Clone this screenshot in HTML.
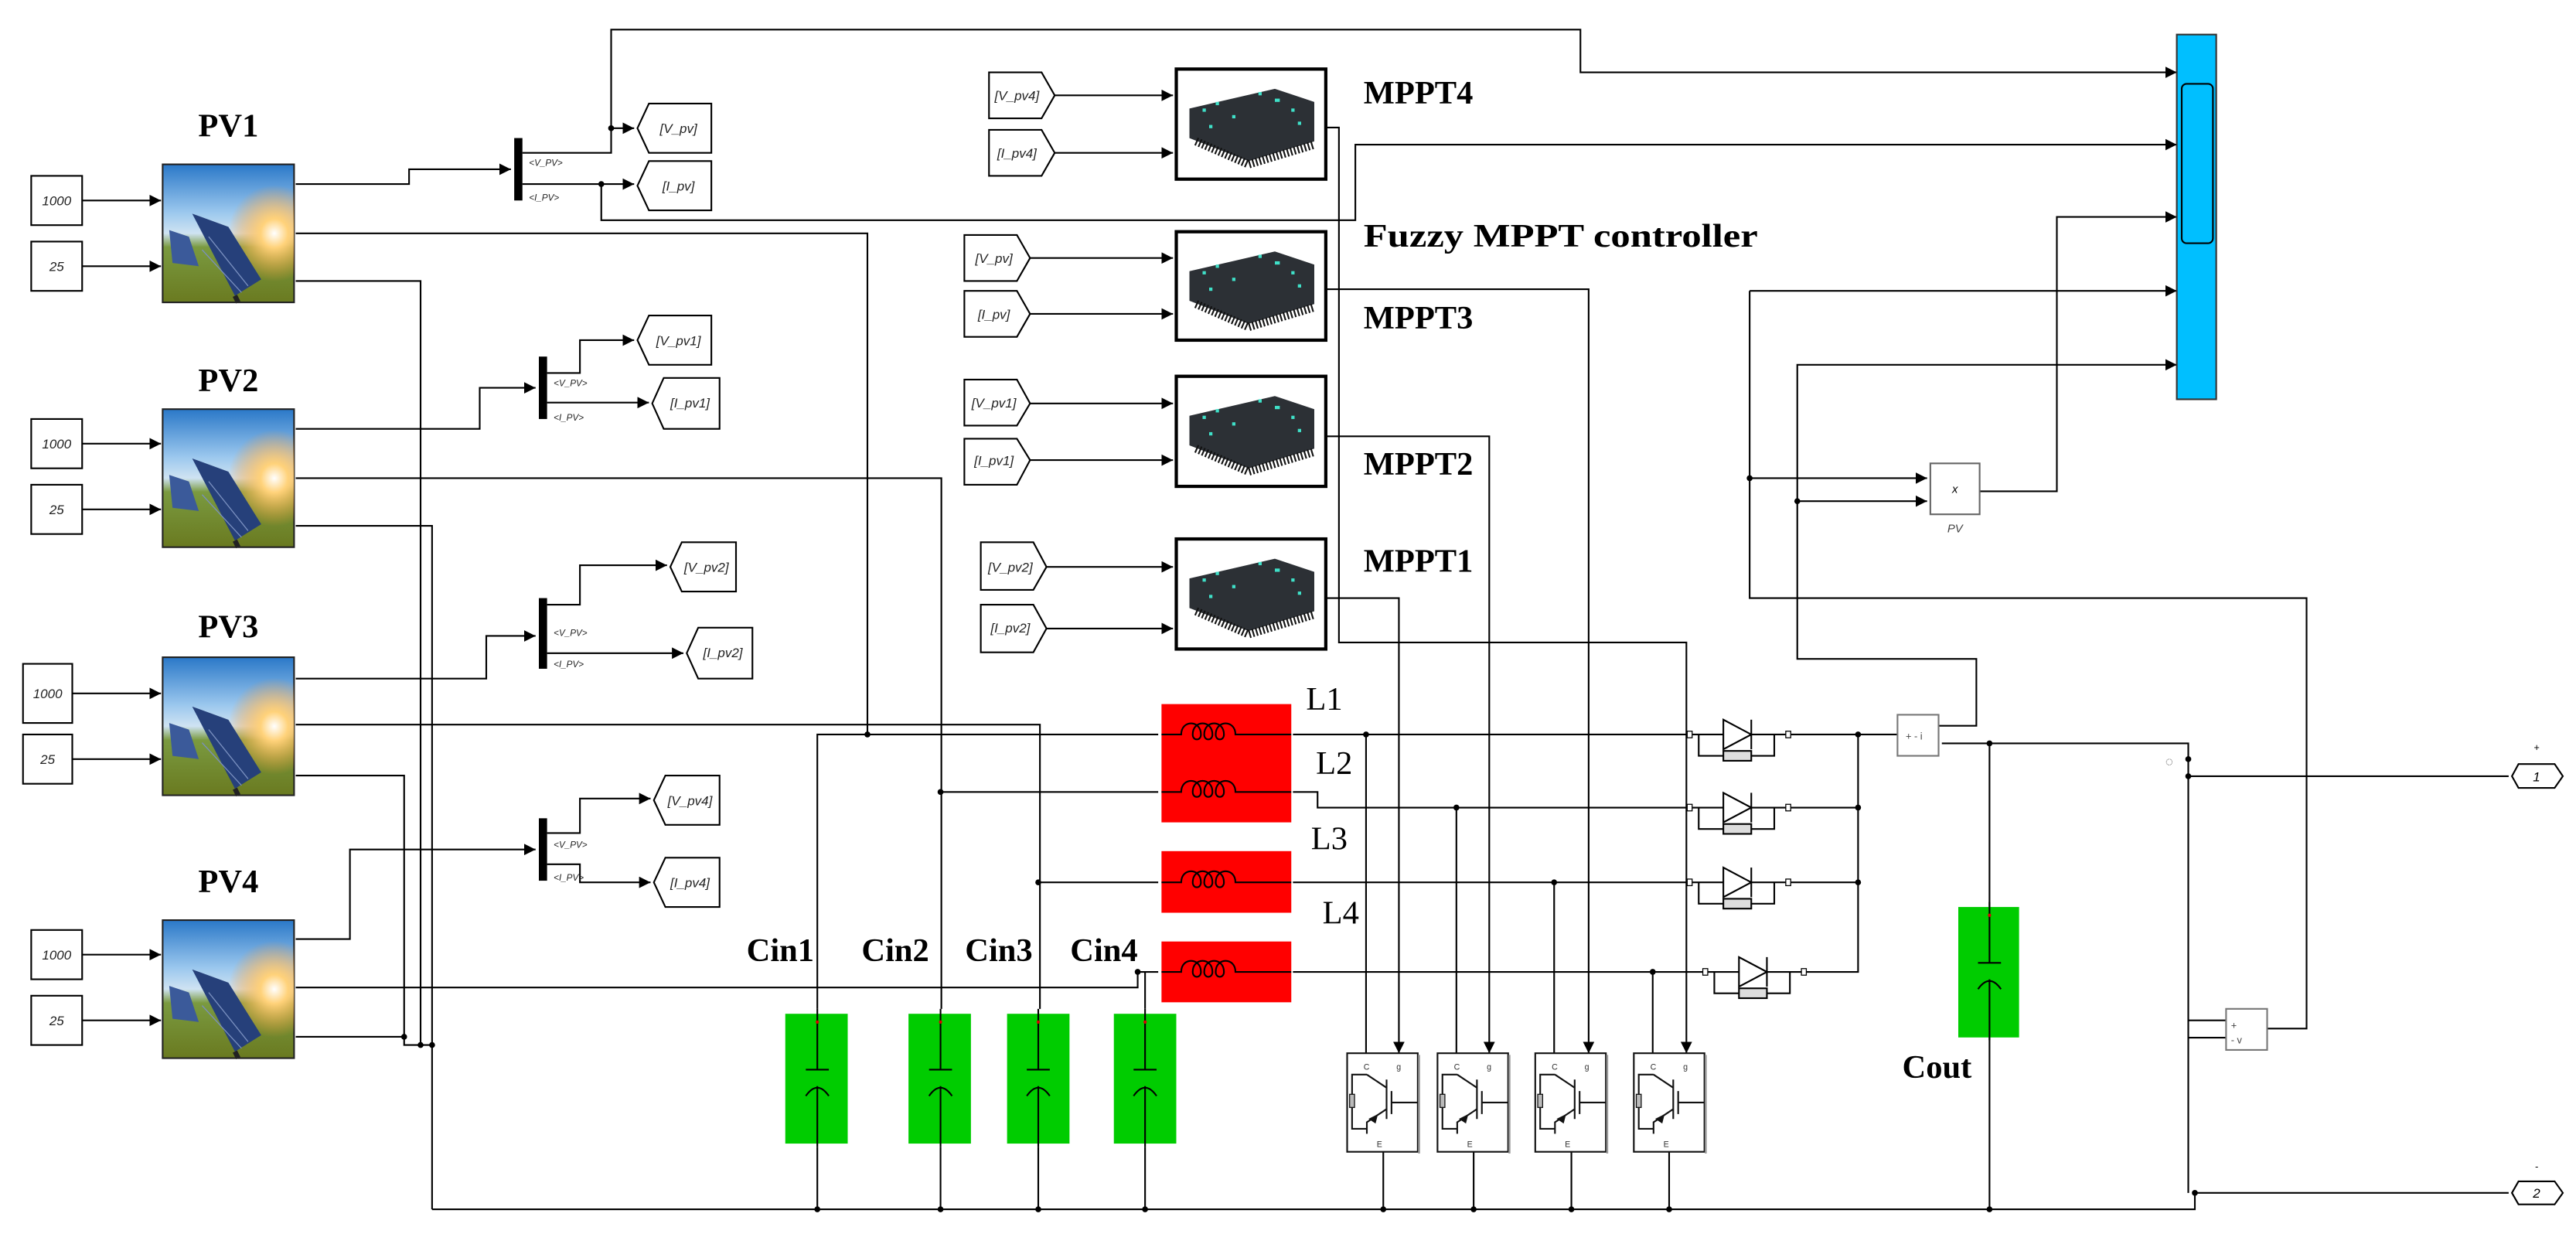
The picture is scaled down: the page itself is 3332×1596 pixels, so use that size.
<!DOCTYPE html>
<html><head><meta charset="utf-8"><style>html,body{margin:0;padding:0;background:#fff}svg{display:block}</style></head>
<body>
<svg width="3332" height="1596" viewBox="0 0 1568 751" xmlns="http://www.w3.org/2000/svg" font-family="Liberation Sans, sans-serif">
<defs>
<marker id="a" viewBox="0 0 8 8" refX="8" refY="4" markerWidth="7" markerHeight="7" markerUnits="userSpaceOnUse" orient="auto"><path d="M0,0L8,4L0,8z" fill="#000"/></marker>
<linearGradient id="sky" x1="0" y1="0" x2="0" y2="1">
<stop offset="0" stop-color="#2a78c8"/><stop offset="0.35" stop-color="#9cc8ee"/><stop offset="0.5" stop-color="#cfe3f2"/><stop offset="0.6" stop-color="#7a9a40"/><stop offset="1" stop-color="#6a7a20"/></linearGradient>
<radialGradient id="sun" cx="0.85" cy="0.5" r="0.35"><stop offset="0" stop-color="#fff"/><stop offset="0.3" stop-color="#ffd27a"/><stop offset="1" stop-color="#ff9a30" stop-opacity="0"/></radialGradient>
<g id="pv">
<rect x="0" y="0" width="80" height="84" fill="url(#sky)" stroke="#222" stroke-width="1"/>
<rect x="0" y="0" width="80" height="84" fill="url(#sun)"/>
<polygon points="18,30 40,38 60,70 44,80" fill="#26407a"/>
<polygon points="4,40 16,44 22,62 6,60" fill="#3b5a9a"/>
<path d="M28,44 L52,74 M24,52 L48,78" stroke="#7a90c0" stroke-width="0.6"/>
<line x1="44" y1="80" x2="46" y2="84" stroke="#222" stroke-width="3"/>
</g>
<g id="chip">
<polygon points="8,22 60,10 84,18 84,42 44,54 8,40" fill="#2c3035"/>
<path d="M12,42 L44,56 L84,44" stroke="#111" stroke-width="5" fill="none" stroke-dasharray="1 1.2"/>
<g fill="#3fe0c8"><rect x="16" y="22" width="2" height="2"/><rect x="24" y="18" width="2" height="2"/><rect x="34" y="26" width="2" height="2"/><rect x="60" y="16" width="3" height="2"/><rect x="70" y="22" width="2" height="2"/><rect x="74" y="30" width="2" height="2"/><rect x="20" y="32" width="2" height="2"/><rect x="50" y="12" width="2" height="2"/></g>
</g>
<g id="igbt" fill="none" stroke="#111" stroke-width="1">
<rect x="0" y="0" width="43" height="60" fill="#fff"/>
<line x1="43.8" y1="1" x2="43.8" y2="61" stroke="#999" stroke-width="1.2"/>
<path d="M12,13 L24,21 M24,16 V40 M27,23 V37 M27,30 H43 M24,34 L12,42 V49 M12,13 H3 V46 H12"/>
<rect x="1.5" y="25" width="3" height="8" fill="#bbb" stroke-width="0.6"/>
<path d="M14,40 L18,38 L17,42z" fill="#111"/>
<text x="10" y="10" font-size="5" stroke="none" fill="#333">C</text>
<text x="30" y="10" font-size="5" stroke="none" fill="#333">g</text>
<text x="18" y="57" font-size="5" stroke="none" fill="#333">E</text>
</g>
<g id="cap" fill="none" stroke="#000" stroke-width="1">
<path d="M0,-3 V34 M-7,34 H7 M-7,50 Q0,40 7,50 M0,44 V81"/>
<circle cx="0" cy="5" r="1" fill="#d00" stroke="none"/>
</g>
<g id="diode" fill="none" stroke="#000" stroke-width="1">
<path d="M0,0 H20 M37,0 H59 M5,0 V13 H51 V0"/>
<polygon points="20,-9 20,9 37,0" fill="#fff"/>
<line x1="37" y1="-9" x2="37" y2="9"/>
<rect x="20" y="10" width="17" height="6" fill="#ddd"/>
<rect x="-2" y="-2" width="3" height="4" fill="#fff" stroke-width="0.6"/>
<rect x="58" y="-2" width="3" height="4" fill="#fff" stroke-width="0.6"/>
</g>
<g id="coil" fill="none" stroke="#000" stroke-width="1">
<path d="M0,0 H12 c0,-9 12,-9 12,0 c0,4 -5,4 -5,0 c0,-9 12,-9 12,0 c0,4 -5,4 -5,0 c0,-9 12,-9 12,0 c0,4 -5,4 -5,0 c0,-9 12,-9 12,0 H79"/>
</g>
</defs>

<g fill="none" stroke="#000" stroke-width="1">
<rect x="19" y="107" width="31" height="30"/><rect x="19" y="147" width="31" height="30"/>
<rect x="19" y="255" width="31" height="30"/><rect x="19" y="295" width="31" height="30"/>
<rect x="14" y="404" width="30" height="36"/><rect x="14" y="447" width="30" height="30"/>
<rect x="19" y="566" width="31" height="30"/><rect x="19" y="606" width="31" height="30"/>
<g marker-end="url(#a)">
<path d="M50,122H98"/><path d="M50,162H98"/><path d="M50,270H98"/><path d="M50,310H98"/>
<path d="M44,422H98"/><path d="M44,462H98"/><path d="M50,581H98"/><path d="M50,621H98"/>
</g>
</g>
<g font-size="8" font-style="italic" text-anchor="middle" fill="#222">
<text x="34.5" y="125">1000</text><text x="34.5" y="165">25</text>
<text x="34.5" y="273">1000</text><text x="34.5" y="313">25</text>
<text x="29" y="425">1000</text><text x="29" y="465">25</text>
<text x="34.5" y="584">1000</text><text x="34.5" y="624">25</text>
</g>

<use href="#pv" x="99" y="100"/><use href="#pv" x="99" y="249"/><use href="#pv" x="99" y="400"/><use href="#pv" x="99" y="560"/>

<g font-family="Liberation Serif, serif" font-weight="bold" font-size="20" text-anchor="middle">
<text x="139" y="83">PV1</text><text x="139" y="238">PV2</text><text x="139" y="388">PV3</text><text x="139" y="543">PV4</text>
<text x="475" y="585">Cin1</text><text x="545" y="585">Cin2</text><text x="608" y="585">Cin3</text><text x="672" y="585">Cin4</text>
<text x="1179" y="656">Cout</text>
</g>
<g font-family="Liberation Serif, serif" font-weight="bold" font-size="20">
<text x="830" y="63">MPPT4</text><text x="830" y="200">MPPT3</text><text x="830" y="289">MPPT2</text><text x="830" y="348">MPPT1</text>
<text x="830" y="150" textLength="240" lengthAdjust="spacingAndGlyphs">Fuzzy MPPT controller</text>
</g>
<g font-family="Liberation Serif, serif" font-size="20">
<text x="795" y="432">L1</text><text x="801" y="471">L2</text><text x="798" y="517">L3</text><text x="805" y="562">L4</text>
</g>

<g fill="none" stroke="#000" stroke-width="1">
<path d="M180,112H249V103H311" marker-end="url(#a)"/>
<path d="M318,93H372V78H386" marker-end="url(#a)"/>
<path d="M372,78V18H962V44H1325" marker-end="url(#a)"/>
<path d="M318,112H386" marker-end="url(#a)"/>
<path d="M366,112V134H825V88H1325" marker-end="url(#a)"/>
<path d="M180,142H528V447"/>
<path d="M180,171H256V636"/>

<path d="M180,261H292V236H326" marker-end="url(#a)"/>
<path d="M333,227H353V207H386" marker-end="url(#a)"/>
<path d="M333,245H395" marker-end="url(#a)"/>
<path d="M180,291H573V614"/>
<path d="M180,320H263V736"/>

<path d="M180,413H296V387H326" marker-end="url(#a)"/>
<path d="M333,368H353V344H406" marker-end="url(#a)"/>
<path d="M333,397.5H416" marker-end="url(#a)"/>
<path d="M180,441H633V614"/>
<path d="M180,472H246V631"/>

<path d="M180,571.5H213V517H326" marker-end="url(#a)"/>
<path d="M333,507H353V486H396" marker-end="url(#a)"/>
<path d="M333,526H353V537H396" marker-end="url(#a)"/>
<path d="M180,601H692.5V591.5H705"/>
<path d="M180,631H246V636H263"/>

<path d="M263,736H1336V726H1527"/>

<path d="M497.5,614V447H705"/>
<path d="M572.5,482H705"/>
<path d="M632,537H705"/>
<path d="M697,614V591.5"/>
<path d="M497.5,698V736M572.5,698V736M632,698V736M697,698V736"/>

<path d="M787,447H1029"/>
<path d="M787,482H802V491.5H1029"/>
<path d="M787,537H1029"/>
<path d="M787,591.5H1038"/>
<path d="M831.5,447V641M886.5,491.5V641M946,537V641M1006,591.5V641"/>
<path d="M807,77.6H815V391H1026.5V641" marker-end="url(#a)"/>
<path d="M807,176H967V641" marker-end="url(#a)"/>
<path d="M807,265.5H906.5V641" marker-end="url(#a)"/>
<path d="M807,364H851.5V641" marker-end="url(#a)"/>
<path d="M842,701V736M897,701V736M956.5,701V736M1016,701V736"/>

<path d="M1088,447H1131M1088,491.5H1131M1088,537H1131M1098,591.5H1131V447"/>
<path d="M1131,447H1155"/>
<path d="M1182,452.4H1332V726"/>
<path d="M1211,452.4V736"/>
<path d="M1180,441.7H1203V401H1094V222H1325" marker-end="url(#a)"/>
<path d="M1094,305H1173" marker-end="url(#a)"/>
<path d="M1065,177H1325" marker-end="url(#a)"/>
<path d="M1065,177V364H1404V626H1380"/>
<path d="M1065,291H1173" marker-end="url(#a)"/>
<path d="M1205,299H1252V132H1325" marker-end="url(#a)"/>
<path d="M1332,621H1355M1332,631.5H1355"/>
<path d="M1332,472.4H1527"/>

<path d="M642,58H714" marker-end="url(#a)"/><path d="M642,93H714" marker-end="url(#a)"/>
<path d="M627,157H714" marker-end="url(#a)"/><path d="M627,191H714" marker-end="url(#a)"/>
<path d="M627,245.5H714" marker-end="url(#a)"/><path d="M627,280H714" marker-end="url(#a)"/>
<path d="M637,345H714" marker-end="url(#a)"/><path d="M637,382.5H714" marker-end="url(#a)"/>
</g>

<g fill="#000">
<circle cx="372" cy="78" r="1.8"/><circle cx="366" cy="112" r="1.8"/>
<circle cx="528" cy="447" r="1.8"/><circle cx="572.5" cy="482" r="1.8"/><circle cx="632" cy="537" r="1.8"/><circle cx="692.5" cy="591.5" r="1.8"/>
<circle cx="246" cy="631" r="1.8"/><circle cx="256" cy="636" r="1.8"/><circle cx="263" cy="636" r="1.8"/>
<circle cx="497.5" cy="736" r="1.8"/><circle cx="572.5" cy="736" r="1.8"/><circle cx="632" cy="736" r="1.8"/><circle cx="697" cy="736" r="1.8"/>
<circle cx="842" cy="736" r="1.8"/><circle cx="897" cy="736" r="1.8"/><circle cx="956.5" cy="736" r="1.8"/><circle cx="1016" cy="736" r="1.8"/><circle cx="1211" cy="736" r="1.8"/>
<circle cx="831.5" cy="447" r="1.8"/><circle cx="886.5" cy="491.5" r="1.8"/><circle cx="946" cy="537" r="1.8"/><circle cx="1006" cy="591.5" r="1.8"/>
<circle cx="1131" cy="447" r="1.8"/><circle cx="1131" cy="491.5" r="1.8"/><circle cx="1131" cy="537" r="1.8"/>
<circle cx="1211" cy="452.4" r="1.8"/><circle cx="1332" cy="472.4" r="1.8"/><circle cx="1332" cy="462" r="1.8"/><circle cx="1336" cy="726" r="1.8"/>
<circle cx="1094" cy="305" r="1.8"/><circle cx="1065" cy="291" r="1.8"/>
</g>

<g fill="#000"><rect x="313" y="84" width="5" height="38"/><rect x="328" y="217" width="5" height="38"/><rect x="328" y="364" width="5" height="43"/><rect x="328" y="498" width="5" height="38"/></g>
<g font-size="5.5" font-style="italic" fill="#222">
<text x="322" y="101">&lt;V_PV&gt;</text><text x="322" y="122">&lt;I_PV&gt;</text>
<text x="337" y="235">&lt;V_PV&gt;</text><text x="337" y="256">&lt;I_PV&gt;</text>
<text x="337" y="387">&lt;V_PV&gt;</text><text x="337" y="406">&lt;I_PV&gt;</text>
<text x="337" y="516">&lt;V_PV&gt;</text><text x="337" y="536">&lt;I_PV&gt;</text>
</g>

<g fill="#fff" stroke="#000" stroke-width="1">
<polygon points="388,78 395,63 433,63 433,93 395,93"/>
<polygon points="388,113 395,98 433,98 433,128 395,128"/>
<polygon points="388,207 395,192 433,192 433,222 395,222"/>
<polygon points="397,245.5 404,230 438,230 438,261 404,261"/>
<polygon points="408,345 415,330 448,330 448,360 415,360"/>
<polygon points="418,397.5 425,382 458,382 458,413 425,413"/>
<polygon points="398,487 405,472 438,472 438,502 405,502"/>
<polygon points="398,537 405,522 438,522 438,552 405,552"/>
<polygon points="602,44 634,44 642,58 634,72 602,72"/>
<polygon points="602,79 634,79 642,93 634,107 602,107"/>
<polygon points="587,143 619,143 627,157 619,171 587,171"/>
<polygon points="587,177 619,177 627,191 619,205 587,205"/>
<polygon points="587,231 619,231 627,245.5 619,259 587,259"/>
<polygon points="587,267 619,267 627,280 619,295 587,295"/>
<polygon points="597,330 629,330 637,345 629,359 597,359"/>
<polygon points="597,368 629,368 637,382.5 629,397 597,397"/>
</g>
<g font-size="8" font-style="italic" fill="#222" text-anchor="middle">
<text x="413" y="81">[V_pv]</text><text x="413" y="116">[I_pv]</text>
<text x="413" y="210">[V_pv1]</text><text x="420" y="248">[I_pv1]</text>
<text x="430" y="348">[V_pv2]</text><text x="440" y="400">[I_pv2]</text>
<text x="420" y="490">[V_pv4]</text><text x="420" y="540">[I_pv4]</text>
<text x="619" y="61">[V_pv4]</text><text x="619" y="96">[I_pv4]</text>
<text x="605" y="160">[V_pv]</text><text x="605" y="194">[I_pv]</text>
<text x="605" y="248">[V_pv1]</text><text x="605" y="283">[I_pv1]</text>
<text x="615" y="348">[V_pv2]</text><text x="615" y="385">[I_pv2]</text>
</g>

<g fill="#fff" stroke="#000" stroke-width="2">
<rect x="716" y="42" width="91" height="67"/><rect x="716" y="141" width="91" height="66"/>
<rect x="716" y="229" width="91" height="67"/><rect x="716" y="328" width="91" height="67"/>
</g>
<use href="#chip" x="716" y="44"/><use href="#chip" x="716" y="143"/><use href="#chip" x="716" y="231"/><use href="#chip" x="716" y="330"/>

<rect x="1325" y="21" width="24" height="222" fill="#00bfff" stroke="#333" stroke-width="1"/>
<rect x="1328" y="51" width="19" height="97" rx="3" fill="#00bfff" stroke="#000" stroke-width="1"/>

<rect x="1175" y="282" width="30" height="31" fill="#fff" stroke="#666" stroke-width="1"/>
<text x="1190" y="300" font-size="7" font-style="italic" text-anchor="middle">x</text>
<text x="1190" y="324" font-size="7" font-style="italic" text-anchor="middle" fill="#444">PV</text>

<g fill="#ff0000"><rect x="707" y="428.5" width="79" height="72"/><rect x="707" y="518" width="79" height="37.5"/><rect x="707" y="573" width="79" height="37"/></g>
<use href="#coil" x="707" y="447"/><use href="#coil" x="707" y="482"/><use href="#coil" x="707" y="537"/><use href="#coil" x="707" y="591.5"/>

<use href="#diode" x="1029" y="447"/><use href="#diode" x="1029" y="491.5"/><use href="#diode" x="1029" y="537"/><use href="#diode" x="1038.5" y="591.5"/>

<g fill="#00cc00"><rect x="478" y="617" width="38" height="79"/><rect x="553" y="617" width="38" height="79"/><rect x="613" y="617" width="38" height="79"/><rect x="678" y="617" width="38" height="79"/><rect x="1192" y="552" width="37" height="79.4"/></g>
<use href="#cap" x="497.5" y="617"/><use href="#cap" x="572.5" y="617"/><use href="#cap" x="632" y="617"/><use href="#cap" x="697" y="617"/><use href="#cap" x="1211" y="552"/>

<use href="#igbt" x="820" y="641"/><use href="#igbt" x="875" y="641"/><use href="#igbt" x="934.5" y="641"/><use href="#igbt" x="994.5" y="641"/>

<rect x="1155" y="435" width="25" height="25" fill="#fff" stroke="#777" stroke-width="1"/>
<text x="1160" y="450" font-size="6" fill="#444">+ - i</text>
<rect x="1355" y="614" width="25" height="25" fill="#fff" stroke="#777" stroke-width="1"/>
<text x="1358" y="626" font-size="6" fill="#444">+</text><text x="1358" y="635" font-size="6" fill="#444">-   v</text>
<text x="1318" y="466" font-size="8" fill="#555">◌</text>

<g fill="#fff" stroke="#000" stroke-width="1">
<polygon points="1529,472.4 1533,465 1555,465 1560,472.4 1555,479.5 1533,479.5"/>
<polygon points="1529,726 1533,719 1555,719 1560,726 1555,733 1533,733"/>
</g>
<g font-size="8" font-style="italic" text-anchor="middle"><text x="1544" y="475.5">1</text><text x="1544" y="729">2</text>
<text x="1544" y="457" font-size="6">+</text><text x="1544" y="712" font-size="6">-</text></g>
</svg>
</body></html>
